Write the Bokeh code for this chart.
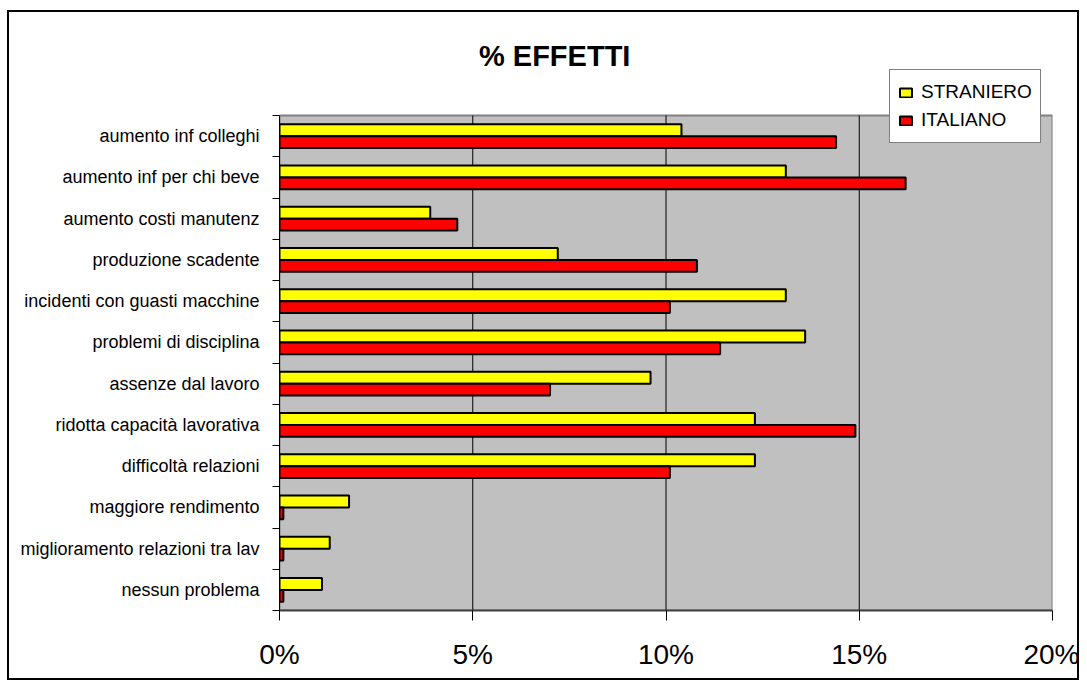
from bokeh.plotting import figure
from bokeh.models import (Range1d, FixedTicker, PrintfTickFormatter, Legend, LegendItem,
                          ColumnDataSource, Label)
from bokeh.embed import file_html
from bokeh.resources import INLINE

# ---- data (top to bottom as in the chart) ----
categories = [
    "aumento inf colleghi",
    "aumento inf per chi beve",
    "aumento costi manutenz",
    "produzione scadente",
    "incidenti con guasti macchine",
    "problemi di disciplina",
    "assenze dal lavoro",
    "ridotta capacità lavorativa",
    "difficoltà relazioni",
    "maggiore rendimento",
    "miglioramento relazioni tra lav",
    "nessun problema",
]
straniero = [10.4, 13.1, 3.9, 7.2, 13.1, 13.6, 9.6, 12.3, 12.3, 1.8, 1.3, 1.1]
italiano = [14.4, 16.2, 4.6, 10.8, 10.1, 11.4, 7.0, 14.9, 10.1, 0.1, 0.1, 0.1]
x_ticks = [0, 5, 10, 15, 20]
series_names = ["STRANIERO", "ITALIANO"]
chart_title = "% EFFETTI"

n = len(categories)
centers = [n - i - 0.5 for i in range(n)]
bar_h = 0.29
off = 0.145

# layout (pixels)
FIG_W, FIG_H = 1072, 670
PLOT_W, PLOT_H = 773, 495          # grey plot area
EXTRA_TOP = 75                     # white space above grey area, inside frame
unit_y = PLOT_H / n

src = ColumnDataSource(dict(
    y_s=[c + off for c in centers],
    y_i=[c - off for c in centers],
    straniero=straniero,
    italiano=italiano,
))

FONT = "Liberation Sans"

p = figure(
    width=FIG_W, height=FIG_H,
    frame_width=PLOT_W, frame_height=PLOT_H + EXTRA_TOP,
    x_range=Range1d(x_ticks[0], x_ticks[-1]),
    y_range=Range1d(0, n + EXTRA_TOP / unit_y),
    output_backend="svg", toolbar_location=None,
    min_border_left=272, min_border_right=27, min_border_top=30, min_border_bottom=70,
    background_fill_color="white", border_fill_color=None,
)
p.styles = {"margin": "10px 0px 0px 7px",
            "background-color": "white",
            "box-shadow": "inset 0 0 0 2px black"}
p.outline_line_color = None

# grey plot area with grey border
p.quad(left=x_ticks[0], right=x_ticks[-1], bottom=0, top=n,
       fill_color="#C0C0C0", line_color="#808080", line_width=2)
# vertical gridlines
inner = x_ticks[1:-1]
p.segment(x0=inner, y0=[0] * len(inner), x1=inner, y1=[n] * len(inner),
          line_color="black", line_width=1)

r1 = p.hbar(y="y_s", right="straniero", left=0, height=bar_h, source=src,
            fill_color="#FFFF00", line_color="black", line_width=2)
r2 = p.hbar(y="y_i", right="italiano", left=0, height=bar_h, source=src,
            fill_color="#FF0000", line_color="black", line_width=2)

# x axis
xa = p.xaxis[0]
xa.ticker = FixedTicker(ticks=x_ticks)
xa.formatter = PrintfTickFormatter(format="%d%%")
xa.major_label_text_font = FONT
xa.major_label_text_font_size = "28px"
xa.major_label_text_color = "black"
xa.major_tick_out = 10
xa.major_tick_in = 0
xa.major_tick_line_color = "black"
xa.minor_tick_line_color = None
xa.axis_line_color = "#404040"
xa.axis_line_width = 2
xa.major_label_standoff = 18

# y axis
ya = p.yaxis[0]
ya.bounds = (0, n)
ya.ticker = FixedTicker(ticks=centers, minor_ticks=list(range(n + 1)))
ya.major_label_overrides = {c: name for c, name in zip(centers, categories)}
ya.major_label_text_font = FONT
ya.major_label_text_font_size = "18px"
ya.major_label_text_color = "black"
ya.major_tick_out = 0
ya.major_tick_in = 0
ya.minor_tick_out = 7
ya.minor_tick_in = 0
ya.minor_tick_line_color = "black"
ya.axis_line_color = "black"
ya.axis_line_width = 1
ya.major_label_standoff = 13

p.xgrid.grid_line_color = None
p.ygrid.grid_line_color = None

# title (inside the white band above the grey area)
p.add_layout(Label(
    x=7.12, y=n + 60 / unit_y, text=chart_title,
    text_font=FONT, text_font_size="29px", text_font_style="bold",
    text_color="black", text_align="center", text_baseline="middle",
))

legend = Legend(
    items=[LegendItem(label=series_names[0], renderers=[r1]),
           LegendItem(label=series_names[1], renderers=[r2])],
    location=(610, 467),
    label_text_font=FONT, label_text_font_size="19px", label_text_color="black",
    glyph_width=15, glyph_height=11, label_height=28, label_standoff=8,
    spacing=0, padding=8, margin=0,
    border_line_color="black", border_line_width=1,
    background_fill_color="white", background_fill_alpha=1,
)
p.add_layout(legend, "center")

open("out.html", "w").write(file_html(p, INLINE))
